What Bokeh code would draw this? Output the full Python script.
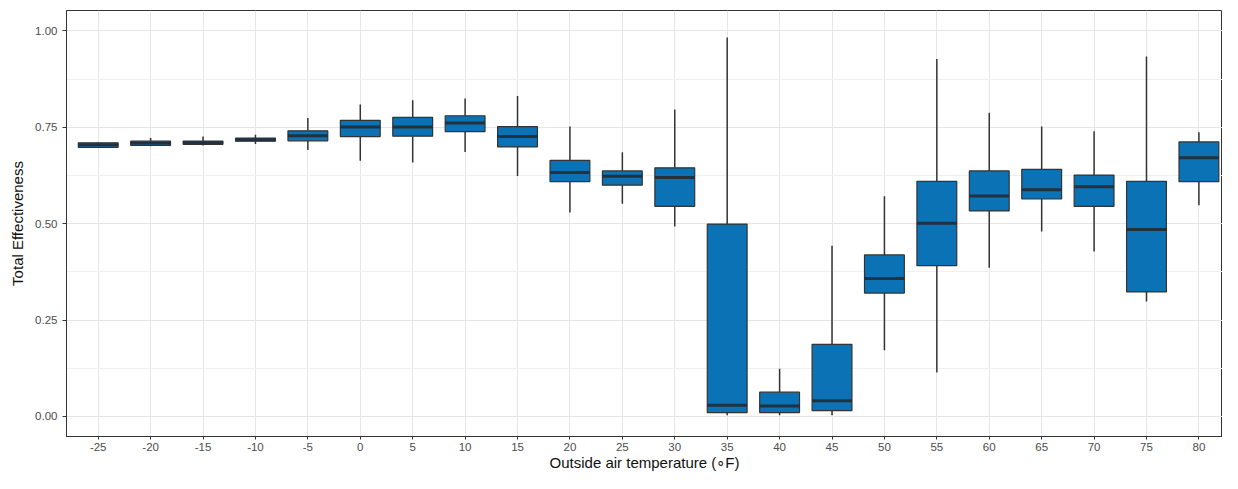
from bokeh.plotting import figure
from bokeh.models import Range1d, FixedTicker, ColumnDataSource
from bokeh.embed import file_html
from bokeh.resources import INLINE
import numpy as np

# Data
temps = ["-25", "-20", "-15", "-10", "-5", "0", "5", "10", "15", "20", "25",
         "30", "35", "40", "45", "50", "55", "60", "65", "70", "75", "80"]
whisker_lo = [0.697, 0.701, 0.703, 0.707, 0.691, 0.663, 0.659, 0.686, 0.624, 0.529, 0.552,
              0.493, 0.003, 0.003, 0.003, 0.172, 0.114, 0.386, 0.480, 0.428, 0.298, 0.548]
q1 = [0.698, 0.703, 0.706, 0.714, 0.715, 0.726, 0.727, 0.739, 0.699, 0.609, 0.600,
      0.545, 0.010, 0.010, 0.015, 0.320, 0.391, 0.533, 0.564, 0.545, 0.323, 0.609]
median = [0.705, 0.709, 0.710, 0.718, 0.728, 0.751, 0.751, 0.761, 0.726, 0.633, 0.623,
          0.620, 0.029, 0.027, 0.041, 0.358, 0.501, 0.572, 0.588, 0.596, 0.485, 0.671]
q3 = [0.710, 0.714, 0.714, 0.722, 0.741, 0.768, 0.776, 0.780, 0.752, 0.664, 0.637,
      0.645, 0.499, 0.063, 0.187, 0.419, 0.610, 0.637, 0.641, 0.626, 0.610, 0.712]
whisker_hi = [0.712, 0.722, 0.726, 0.731, 0.774, 0.809, 0.820, 0.825, 0.831, 0.752, 0.685,
              0.796, 0.983, 0.124, 0.443, 0.571, 0.927, 0.788, 0.752, 0.740, 0.934, 0.737]

y_ticks = [0.0, 0.25, 0.5, 0.75, 1.0]
y_labels = ["0.00", "0.25", "0.50", "0.75", "1.00"]

BOX_W = 0.76
FILL = "#0B72B5"
LINE = "#333333"

idx = np.arange(len(temps))
src = ColumnDataSource(dict(
    x=idx, lo=whisker_lo, q1=q1, med=median, q3=q3, hi=whisker_hi,
    xl=idx - BOX_W / 2, xr=idx + BOX_W / 2,
))

p = figure(width=1222, height=473, output_backend="svg", toolbar_location=None,
           x_range=Range1d(-0.605, 21.45), y_range=Range1d(-0.052, 1.053),
           min_border_left=66, min_border_right=0, min_border_top=10,
           min_border_bottom=34)
p.background_fill_color = "white"
p.border_fill_color = "white"
p.outline_line_color = LINE
p.outline_line_width = 1

# whiskers
p.segment(x0="x", y0="q3", x1="x", y1="hi", source=src, line_color=LINE, line_width=1.5)
p.segment(x0="x", y0="lo", x1="x", y1="q1", source=src, line_color=LINE, line_width=1.5)
# boxes
p.vbar(x="x", bottom="q1", top="q3", width=BOX_W, source=src,
       fill_color=FILL, line_color=LINE, line_width=1.2)
# medians
p.segment(x0="xl", y0="med", x1="xr", y1="med", source=src,
          line_color="#22313D", line_width=3)

# axes
p.xaxis.ticker = FixedTicker(ticks=list(idx))
p.xaxis.major_label_overrides = {int(i): t for i, t in zip(idx, temps)}
p.yaxis.ticker = FixedTicker(ticks=y_ticks, minor_ticks=[0.125, 0.375, 0.625, 0.875])
p.yaxis.major_label_overrides = {t: l for t, l in zip(y_ticks, y_labels)}

for ax in (p.xaxis, p.yaxis):
    ax.axis_line_color = LINE
    ax.axis_line_width = 1
    ax.major_tick_line_color = LINE
    ax.major_tick_out = 4
    ax.major_tick_in = 0
    ax.minor_tick_line_color = None
    ax.major_label_text_font = "Liberation Sans"
    ax.major_label_text_font_size = "11.5px"
    ax.major_label_text_color = "#4D4D4D"
    ax.axis_label_text_font = "Liberation Sans"
    ax.axis_label_text_font_size = "15px"
    ax.axis_label_text_font_style = "normal"
    ax.axis_label_text_color = "#111111"

p.xaxis.major_tick_out = 3
p.xaxis.axis_label = "Outside air temperature (\u2218F)"
p.yaxis.axis_label = "Total Effectiveness"
p.xaxis.major_label_standoff = 3
p.xaxis.axis_label_standoff = 0
p.yaxis.major_label_standoff = 5
p.yaxis.axis_label_standoff = 6

p.xgrid.grid_line_color = "#E6E6E6"
p.xgrid.grid_line_width = 1
p.ygrid.grid_line_color = "#E6E6E6"
p.ygrid.grid_line_width = 1
p.ygrid.minor_grid_line_color = "#EFEFEF"
p.ygrid.minor_grid_line_width = 1

open("out.html", "w").write(file_html(p, INLINE))
